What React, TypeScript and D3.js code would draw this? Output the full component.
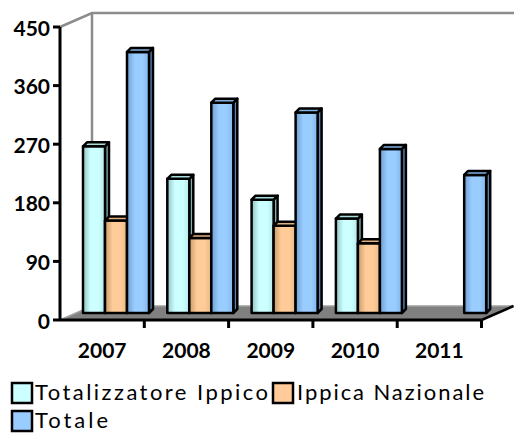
import * as d3 from "d3";

// Values (millions)
const years = ["2007", "2008", "2009", "2010", "2011"];
const seriesNames = ["Totalizzatore Ippico", "Ippica Nazionale", "Totale"];
const totalizzatore: (number | null)[] = [256, 206, 174, 145, null];
const ippicaNazionale: (number | null)[] = [142, 115, 134, 107, null];
const totale: (number | null)[] = [401, 323, 308, 252, 212];
const yTickValues = [0, 90, 180, 270, 360, 450];

const seriesValues = [totalizzatore, ippicaNazionale, totale];

const PALETTE = [
  { dark: "#93c4c4", light: "#ccffff", mid: "#b6e8e8", side: "#80b0b0", top: "#a8dede" },
  { dark: "#c89a6a", light: "#ffcc99", mid: "#e8b886", side: "#b08050", top: "#e0b080" },
  { dark: "#6f9fd2", light: "#99ccff", mid: "#86b6e8", side: "#5a86b8", top: "#7fb0e0" },
];

const W = 514;
const H = 434;
const FONT = "Lato, 'DejaVu Sans', sans-serif";

// 3D geometry
const DEPTH_X = 32;
const DEPTH_Y = -14;
const BAR_SHIFT_X = DEPTH_X / 2;
const BAR_SHIFT_Y = DEPTH_Y / 2;
const CAP_X = 4;
const CAP_Y = -4;

export default function App() {
  const x = d3.scaleBand<string>().domain(years).range([60, 481.5]);
  const inner = d3.scaleBand<string>().domain(seriesNames).range([7, 73]);
  const y = d3.scaleLinear().domain([0, 450]).range([320, 27]);

  const floor = y(0);
  const axisLeft = x.range()[0];
  const axisRight = x.range()[1];

  return (
    <svg
      width={W}
      height={H}
      style={{ position: "absolute", left: 0, top: 0, background: "#fff" }}
      fontFamily={FONT}
    >
      <defs>
        {PALETTE.map((p, i) => (
          <linearGradient key={i} id={`grad${i}`} x1="0" x2="1" y1="0" y2="0">
            <stop offset="0" stopColor={p.dark} />
            <stop offset="0.35" stopColor={p.light} />
            <stop offset="0.7" stopColor={p.light} />
            <stop offset="1" stopColor={p.mid} />
          </linearGradient>
        ))}
      </defs>

      {/* Walls */}
      <path
        d={`M${axisLeft},${y(450)} L${axisLeft + DEPTH_X},${y(450) + DEPTH_Y} L${W},${y(450) + DEPTH_Y}`}
        fill="none"
        stroke="#8c8c8c"
        strokeWidth={2.5}
      />
      <line
        x1={axisLeft + DEPTH_X}
        x2={axisLeft + DEPTH_X}
        y1={y(450) + DEPTH_Y}
        y2={floor + DEPTH_Y}
        stroke="#8c8c8c"
        strokeWidth={2.5}
      />

      {/* Floor */}
      <path
        d={`M${axisLeft},${floor} L${axisLeft + DEPTH_X},${floor + DEPTH_Y} L${axisRight + DEPTH_X},${floor + DEPTH_Y} L${axisRight},${floor} Z`}
        fill="#808080"
        stroke="#a0a0a0"
        strokeWidth={1.5}
      />
      <line
        x1={axisRight}
        y1={floor}
        x2={axisRight + DEPTH_X}
        y2={floor + DEPTH_Y}
        stroke="#000"
        strokeWidth={2.5}
      />

      {/* Bars */}
      {years.map((yr, ci) =>
        seriesNames.map((s, si) => {
          const v = seriesValues[si][ci];
          if (v == null) return null;
          const p = PALETTE[si];
          const x0 = (x(yr) ?? 0) + (inner(s) ?? 0) + BAR_SHIFT_X;
          const w = inner.bandwidth();
          const yb = y(0) + BAR_SHIFT_Y;
          const yt = y(v) + BAR_SHIFT_Y;
          return (
            <g key={`${yr}-${s}`} stroke="#000" strokeWidth={2.5} strokeLinejoin="round">
              <path
                d={`M${x0 + w},${yt} L${x0 + w + CAP_X},${yt + CAP_Y} L${x0 + w + CAP_X},${yb + CAP_Y} L${x0 + w},${yb} Z`}
                fill={p.side}
              />
              <rect x={x0} y={yt} width={w} height={yb - yt} fill={`url(#grad${si})`} />
              <path
                d={`M${x0},${yt} L${x0 + CAP_X},${yt + CAP_Y} L${x0 + w + CAP_X},${yt + CAP_Y} L${x0 + w},${yt} Z`}
                fill={p.top}
              />
            </g>
          );
        }),
      )}

      {/* Y axis */}
      <line x1={axisLeft} x2={axisLeft} y1={y(450)} y2={floor} stroke="#000" strokeWidth={3} />
      {yTickValues.map((t) => (
        <g key={t}>
          <line x1={axisLeft - 7} x2={axisLeft} y1={y(t)} y2={y(t)} stroke="#000" strokeWidth={3} />
          <text
            x={50}
            y={y(t)}
            textAnchor="end"
            dominantBaseline="central"
            fontSize={21}
            fontWeight={700}
            fill="#000"
          >
            {t}
          </text>
        </g>
      ))}

      {/* X axis */}
      <line x1={axisLeft} x2={axisRight} y1={floor} y2={floor} stroke="#000" strokeWidth={3} />
      {years.map((yr) => (
        <line
          key={yr}
          x1={(x(yr) ?? 0) + x.bandwidth()}
          x2={(x(yr) ?? 0) + x.bandwidth()}
          y1={floor}
          y2={floor + 8}
          stroke="#000"
          strokeWidth={3}
        />
      ))}
      {years.map((yr) => (
        <text
          key={yr}
          x={(x(yr) ?? 0) + x.bandwidth() / 2}
          y={358}
          textAnchor="middle"
          fontSize={21}
          fontWeight={700}
          fill="#000"
        >
          {yr}
        </text>
      ))}

      {/* Legend */}
      {[
        { i: 0, sx: 12, sy: 383, tx: 35, len: 233 },
        { i: 1, sx: 273, sy: 383, tx: 297, len: 187 },
        { i: 2, sx: 12, sy: 411, tx: 35, len: 73 },
      ].map((l) => (
        <g key={l.i}>
          <rect
            x={l.sx}
            y={l.sy}
            width={20}
            height={20}
            fill={PALETTE[l.i].light}
            stroke="#000"
            strokeWidth={2.5}
          />
          <text
            x={l.tx}
            y={l.sy + 17}
            fontSize={22}
            fill="#000"
            textLength={l.len}
            lengthAdjust="spacing"
          >
            {seriesNames[l.i]}
          </text>
        </g>
      ))}
    </svg>
  );
}
